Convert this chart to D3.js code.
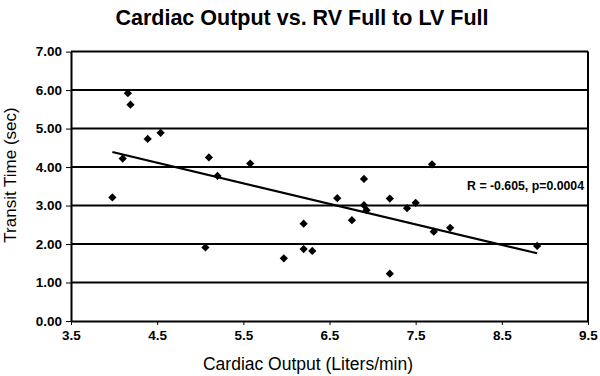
<!DOCTYPE html>
<html>
<head>
<meta charset="utf-8">
<script src="https://cdn.jsdelivr.net/npm/d3@7"></script>
<style>
  body { margin: 0; background: #fff; }
  text { font-family: Arial, "Liberation Sans", sans-serif; fill: #000; }
</style>
</head>
<body>
<div id="chart"></div>
<script>
// cardiac output (L/min) vs transit time (sec)
const cardiacOutput = [4.16, 4.19, 4.39, 4.54, 4.10, 3.98, 5.10, 5.20, 5.58,
                       5.06, 5.97, 6.20, 6.20, 6.30, 6.59, 6.76, 6.90, 6.90,
                       6.93, 7.20, 7.20, 7.40, 7.50, 7.69, 7.71, 7.90, 8.91];
const transitTime  = [5.92, 5.62, 4.73, 4.89, 4.22, 3.21, 4.25, 3.77, 4.09,
                       1.91, 1.63, 2.53, 1.87, 1.82, 3.19, 2.62, 3.69, 3.01,
                       2.88, 3.18, 1.23, 2.93, 3.07, 4.07, 2.32, 2.42, 1.95];
const trendX = [3.98, 8.91];
const trendY = [4.39, 1.76];
const xTicks = [3.5, 4.5, 5.5, 6.5, 7.5, 8.5, 9.5];
const yTicks = [0, 1, 2, 3, 4, 5, 6, 7];

const W = 600, H = 376;
const margin = { top: 51.6, right: 12, bottom: 55, left: 71 },
      width = W - margin.left - margin.right,
      height = H - margin.top - margin.bottom;

const root = d3.select("#chart").append("svg")
    .attr("width", W)
    .attr("height", H);

const svg = root.append("g")
    .attr("transform", `translate(${margin.left},${margin.top})`);

const x = d3.scaleLinear().domain([3.5, 9.5]).range([0, width]);
const y = d3.scaleLinear().domain([0, 7]).range([height, 0]);

// gridlines
svg.selectAll(".grid")
  .data(yTicks.slice(1))
  .enter().append("line")
    .attr("x1", 0).attr("x2", width)
    .attr("y1", d => y(d)).attr("y2", d => y(d))
    .style("stroke", "#000")
    .style("stroke-width", 2);

// right border
svg.append("line")
    .attr("x1", width).attr("x2", width)
    .attr("y1", 0).attr("y2", height)
    .style("stroke", "#000").style("stroke-width", 2);

// axes
const xAxis = svg.append("g")
    .attr("transform", `translate(0,${height})`)
    .call(d3.axisBottom(x).tickValues(xTicks).tickFormat(d3.format(".1f")).tickSize(4).tickSizeOuter(0));
const yAxis = svg.append("g")
    .call(d3.axisLeft(y).tickValues(yTicks).tickFormat(d3.format(".2f")).tickSize(5).tickSizeOuter(0));

[xAxis, yAxis].forEach(g => {
  g.select(".domain").style("stroke", "#000").style("stroke-width", 2);
  g.selectAll(".tick line").style("stroke", "#000");
  g.selectAll(".tick text")
    .style("font-size", "13.5px")
    .style("font-weight", "bold")
    .style("font-family", "Arial, 'Liberation Sans', sans-serif");
});
xAxis.selectAll(".tick text").attr("dy", "0.95em").attr("y", 6);
yAxis.selectAll(".tick text").attr("x", -9);

// trendline
svg.append("line")
    .attr("x1", x(trendX[0])).attr("y1", y(trendY[0]))
    .attr("x2", x(trendX[1])).attr("y2", y(trendY[1]))
    .style("stroke", "#000").style("stroke-width", 2.2);

// points
const diamond = d3.symbol().type(d3.symbolSquare).size(34);
svg.selectAll(".pt")
  .data(cardiacOutput.map((c, i) => ({ c, t: transitTime[i] })))
  .enter().append("path")
    .attr("class", "pt")
    .attr("d", diamond)
    .attr("transform", d => `translate(${x(d.c)},${y(d.t)}) rotate(45)`)
    .style("fill", "#000");

svg.append("text")
    .attr("x", width - 4)
    .attr("y", y(3.4))
    .attr("text-anchor", "end")
    .style("font-size", "12.3px")
    .style("font-weight", "bold")
    .text("R = -0.605, p=0.0004");

// titles
root.append("text")
    .attr("x", 302).attr("y", 25)
    .attr("text-anchor", "middle")
    .style("font-size", "21.5px")
    .style("font-weight", "bold")
    .text("Cardiac Output vs. RV Full to LV Full");

root.append("text")
    .attr("x", 308).attr("y", 370)
    .attr("text-anchor", "middle")
    .style("font-size", "17.5px")
    .text("Cardiac Output (Liters/min)");

root.append("text")
    .attr("transform", "translate(16,175) rotate(-90)")
    .attr("text-anchor", "middle")
    .style("font-size", "17px")
    .text("Transit Time (sec)");
</script>
</body>
</html>
